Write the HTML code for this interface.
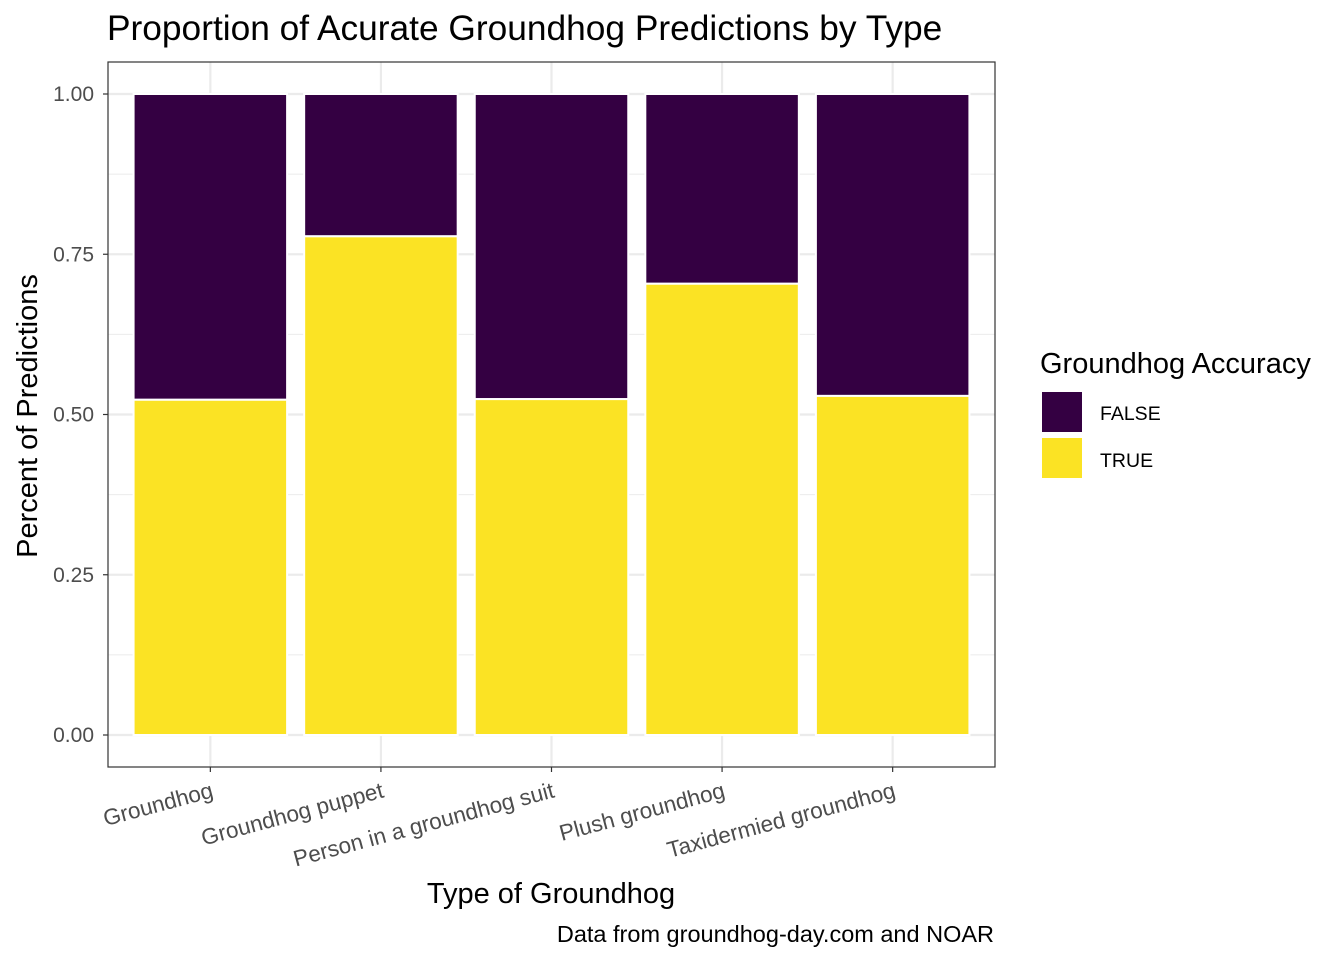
<!DOCTYPE html>
<html><head><meta charset="utf-8"><style>
body{margin:0;background:#fff}
svg text{font-family:"Liberation Sans",Arial,sans-serif}
</style></head><body>
<svg id="chart" width="1344" height="960" xmlns="http://www.w3.org/2000/svg">
<rect width="1344" height="960" fill="#fff"/>
<text x="107" y="40" font-size="35.3" fill="#000">Proportion of Acurate Groundhog Predictions by Type</text>
<g id="grid"></g>
<g id="bars"></g>
<rect x="108" y="62" width="887" height="705" fill="none" stroke="#333" stroke-width="1.2"/>
<g id="axes"></g>
<text x="551" y="903" font-size="29" text-anchor="middle">Type of Groundhog</text>
<text transform="translate(37,416) rotate(-90)" font-size="29" text-anchor="middle">Percent of Predictions</text>
<text x="994" y="942" font-size="23.5" text-anchor="end">Data from groundhog-day.com and NOAR</text>
<g>
<text x="1040" y="373" font-size="29">Groundhog Accuracy</text>
<rect x="1042" y="392" width="40" height="40" fill="#340042"/>
<text x="1100" y="420" font-size="19.5">FALSE</text>
<rect x="1042" y="438" width="40" height="40" fill="#fbe324"/>
<text x="1100" y="467" font-size="19.5">TRUE</text>
</g>
</svg>
<script>
const categories=["Groundhog","Groundhog puppet","Person in a groundhog suit","Plush groundhog","Taxidermied groundhog"];
const trueShare=[0.523,0.778,0.524,0.704,0.529];
const yTicks=[0,0.25,0.5,0.75,1.0];
const yTickLabels=["0.00","0.25","0.50","0.75","1.00"];
const NS="http://www.w3.org/2000/svg";
const px0=108,px1=995;
const y=v=>735-v*641;
const band=(px1-px0)/(categories.length+0.2);
const x=i=>px0+band*(0.6+i);
const bw=band*0.9;
function mk(t,a,p){const e=document.createElementNS(NS,t);for(const k in a)e.setAttribute(k,a[k]);p.appendChild(e);return e;}
const grid=document.getElementById('grid'),bars=document.getElementById('bars'),axes=document.getElementById('axes');
for(let i=0;i<yTicks.length;i++){
 const g=mk('line',{x1:px0,x2:px1,y1:y(yTicks[i]),y2:y(yTicks[i]),stroke:'#ebebeb','stroke-width':2.2},grid);
 
 
 if(i<yTicks.length-1){const m=mk('line',{x1:px0,x2:px1,y1:y((yTicks[i]+yTicks[i+1])/2),y2:y((yTicks[i]+yTicks[i+1])/2),stroke:'#ebebeb','stroke-width':1.1},grid);
 
 }
 const tk=mk('line',{x1:px0-5,x2:px0,y1:y(yTicks[i]),y2:y(yTicks[i]),stroke:'#333','stroke-width':1.2},axes);
 
 
 const tl=mk('text',{x:px0-14,y:y(yTicks[i])+7,'font-size':21,'text-anchor':'end',fill:'#4d4d4d'},axes);
 tl.textContent=yTickLabels[i];
 
 
}
categories.forEach((c,i)=>{
 const cx=x(i);
 const vg=mk('line',{x1:cx,x2:cx,y1:62,y2:767,stroke:'#ebebeb','stroke-width':2.2},grid);
 
 
 const f=mk('rect',{x:cx-bw/2,y:y(1),width:bw,height:y(trueShare[i])-y(1),fill:'#340042',stroke:'#fff','stroke-width':2},bars);
 
 
 const t=mk('rect',{x:cx-bw/2,y:y(trueShare[i]),width:bw,height:y(0)-y(trueShare[i]),fill:'#fbe324',stroke:'#fff','stroke-width':2},bars);
 
 
 const tk=mk('line',{x1:cx,x2:cx,y1:767,y2:772,stroke:'#333','stroke-width':1.2},axes);
 
 
 const tl=mk('text',{transform:`translate(${cx+4},${797}) rotate(-15)`,'font-size':22.5,'text-anchor':'end',fill:'#4d4d4d'},axes);
 tl.textContent=c;
 
 
});
</script>
</body></html>
